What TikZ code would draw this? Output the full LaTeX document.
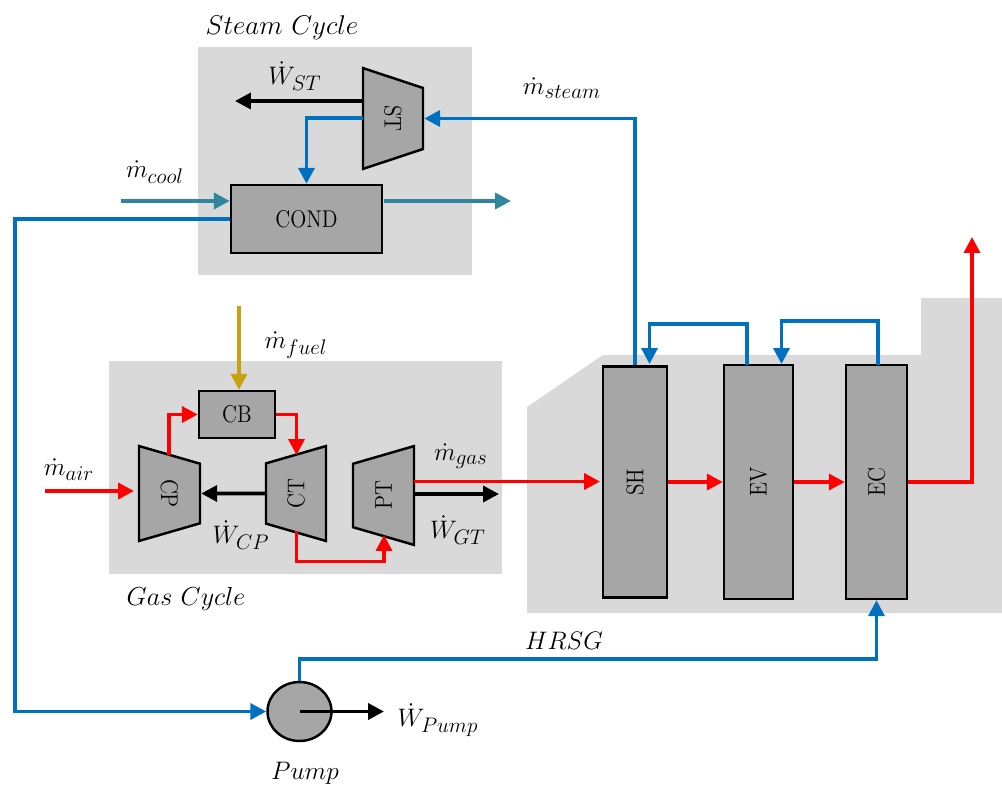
\documentclass[tikz,border=0pt]{standalone}
\usepackage{amsmath, amssymb}
\usepackage{xcolor}
\usepackage{tikz}
\usetikzlibrary{calc, arrows.meta, shapes.geometric}

\DeclareMathSizes{14.4}{14.4}{11.5}{10}

\definecolor{panelgray}{HTML}{D9D9D9}
\definecolor{unitgray}{HTML}{A6A6A6}
\definecolor{waterblue}{HTML}{0070C0}
\definecolor{coolteal}{HTML}{31859C}
\definecolor{fuelgold}{HTML}{C9A010}

\newcommand{\tallname}[1]{\scalebox{1}[1.15]{#1}}

\tikzset{
	panel/.style={fill=panelgray, draw=none},
	unit/.style={draw=black, fill=unitgray, line width=1.4pt, inner sep=0pt, font=\large},
	turbine/.style={unit, trapezium, trapezium stretches=true, trapezium angle=64},
	flow/.style={line width=2.1pt, -{Triangle[length=9pt,width=9pt]}},
	gasline/.style={flow, red},
	waterline/.style={flow, waterblue},
	coolline/.style={flow, coolteal},
	fuelline/.style={flow, fuelgold},
	workline/.style={flow, black},
	lab/.style={font=\Large, inner sep=0pt}
}

\begin{document}
\begin{tikzpicture}[x=0.02cm, y=-0.02cm]
		\useasboundingbox (0,0) rectangle (1002,785);
	
		\fill[panel] (198,47) rectangle (472,275);
		\fill[panel] (109,361) rectangle (502,574);
		\fill[panel] (527,407) -- (603,355) -- (921,355) -- (921,298) -- (1002,298) -- (1002,613) -- (527,613) -- cycle;
	
		\node[turbine, rotate=-90, minimum width=2.02cm, minimum height=1.2cm] (ST) at (393,118.5) {\tallname{ST}};
		\node[unit, minimum width=3.02cm, minimum height=1.36cm] (COND) at (306.5,219) {\tallname{COND}};
		\node[unit, minimum width=1.52cm, minimum height=0.94cm] (CB) at (237,414.5) {\tallname{CB}};
		\node[turbine, rotate=-90, minimum width=1.9cm, minimum height=1.22cm] (CP) at (169.5,493.5) {\tallname{CP}};
		\node[turbine, rotate=90, minimum width=1.9cm, minimum height=1.2cm] (CT) at (296,493.5) {\tallname{CT}};
		\node[turbine, rotate=90, minimum width=1.98cm, minimum height=1.22cm] (PT) at (383.5,495.5) {\tallname{PT}};
		\node[unit, minimum width=1.28cm, minimum height=4.62cm] (SH) at (635,482) {\rotatebox{90}{\tallname{SH}}};
		\node[unit, minimum width=1.38cm, minimum height=4.68cm] (EV) at (758.5,482) {\rotatebox{90}{\tallname{EV}}};
		\node[unit, minimum width=1.22cm, minimum height=4.68cm] (EC) at (876.5,482) {\rotatebox{90}{\tallname{EC}}};
		\node[unit, ellipse, minimum width=1.28cm, minimum height=1.18cm] (Pump) at (299.5,711.5) {};
	
		\coordinate (wstout) at (363,101);
		\coordinate (wstend) at (235,101);
		\coordinate (stout) at (363,118);
		\coordinate (coolin) at (121,201);
		\coordinate (coolstart) at (384,201);
		\coordinate (coolend) at (511,201);
		\coordinate (fuelin) at (239,306);
		\coordinate (airin) at (45,491);
		\coordinate (airend) at (134,491);
		\coordinate (cpout) at (169,455);
		\coordinate (ctin) at (296.5,455);
		\coordinate (ctout) at (296.5,531);
		\coordinate (ptin) at (384,535);
		\coordinate (gasout) at (414,481.5);
		\coordinate (gasend) at (600,481.5);
		\coordinate (wgtstart) at (414,494);
		\coordinate (wgtend) at (499,494);
		\coordinate (wpumpend) at (384,711.5);
		\coordinate (stack) at (972,237);
		\coordinate (evout) at (747,365);
		\coordinate (shin) at (649.5,364);
		\coordinate (ecout) at (878,365);
		\coordinate (evin) at (781.5,364);
	
		% steam and water
		\draw[waterline] (SH.north) |- (ST.north);
		\draw[waterline] (stout) -| (COND.north);
		\draw[waterline] (COND.west) -- (15,219) -- (15,711.5) -- (Pump.west);
		\draw[waterline] (Pump.north) -- (299.5,659) -| (EC.south);
		\draw[waterline] (evout) -- (747,324) -| (shin);
		\draw[waterline] (ecout) -- (878,321) -| (evin);
	
		% cooling and fuel
		\draw[coolline] (coolin) -- (coolin -| COND.west);
		\draw[coolline] (coolstart) -- (coolend);
		\draw[fuelline] (fuelin) -- (fuelin |- CB.north);
	
		% gas path
		\draw[gasline] (airin) -- (airend);
		\draw[gasline] (cpout) |- (CB.west);
		\draw[gasline] (CB.east) -| (ctin);
		\draw[gasline] (ctout) -- (296.5,561.5) -| (ptin);
		\draw[gasline] (gasout) -- (gasend);
		\draw[gasline] (SH.east) -- (EV.west);
		\draw[gasline] (EV.east) -- (EC.west);
		\draw[gasline] (EC.east) -| (stack);
	
		% shaft work
		\draw[workline] (wstout) -- (wstend);
		\draw[workline] (CT.north) -- (CP.north);
		\draw[workline] (wgtstart) -- (wgtend);
		\draw[workline] (Pump.center) -- (wpumpend);
	
		\node[lab, scale=1.07] (steamcycle) at (282,28) {$Steam\ Cycle$};
		\node[lab, scale=1.03] (gascycle) at (186,599) {$Gas\ Cycle$};
		\node[lab] (hrsg) at (564,641) {$HRSG$};
		\node[lab] (pumpname) at (305,773) {$Pump$};
		\node[lab] (mairlabel) at (69,470) {$\dot{m}_{air}$};
		\node[lab] (mcoollabel) at (155,172) {$\dot{m}_{cool}$};
		\node[lab] (mfuellabel) at (296,345) {$\dot{m}_{fuel}$};
		\node[lab] (mgaslabel) at (461,456) {$\dot{m}_{gas}$};
		\node[lab] (msteamlabel) at (562,88) {$\dot{m}_{steam}$};
		\node[lab] (wstlabel) at (295,76) {$\dot{W}_{ST}$};
		\node[lab] (wcplabel) at (241,535) {$\dot{W}_{CP}$};
		\node[lab] (wgtlabel) at (458,530) {$\dot{W}_{GT}$};
		\node[lab] (wpumplabel) at (438,720) {$\dot{W}_{Pump}$};
	\end{tikzpicture}
\end{document}
